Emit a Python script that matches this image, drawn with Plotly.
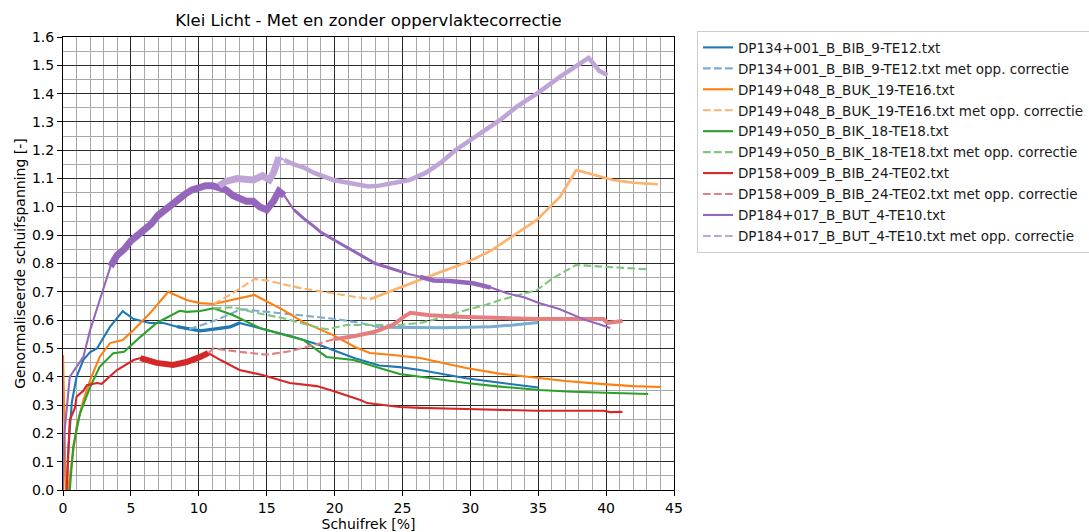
import plotly.graph_objects as go

# ---------------- data ----------------
names = [
    "DP134+001_B_BIB_9-TE12.txt",
    "DP149+048_B_BUK_19-TE16.txt",
    "DP149+050_B_BIK_18-TE18.txt",
    "DP158+009_B_BIB_24-TE02.txt",
    "DP184+017_B_BUT_4-TE10.txt",
]
suffix = " met opp. correctie"

# DP134 (blue)
x134 = [0.27, 0.4, 0.65, 1.0, 1.5, 2.0, 2.5, 2.95, 3.46, 4.4, 5.2, 6.4, 7.4, 8.4, 9.6, 10.1,
        11.1, 12.3, 13.0, 14.0, 15.0, 17.0, 18.9, 19.9, 21.5, 23.3, 24.8, 26.3, 28.0, 29.7,
        31.5, 33.5, 35.0]
y134 = [0.0, 0.15, 0.31, 0.40, 0.46, 0.487, 0.50, 0.537, 0.576, 0.632, 0.604, 0.59, 0.59, 0.577,
        0.567, 0.562, 0.568, 0.576, 0.59, 0.578, 0.565, 0.54, 0.512, 0.494, 0.465, 0.44, 0.434,
        0.424, 0.41, 0.395, 0.383, 0.37, 0.362]
x134c = [9.3, 10.0, 11.0, 12.0, 12.8, 13.3, 15.0, 17.5, 19.9, 21.9, 23.3, 24.8, 26.3, 28.0,
         29.7, 31.5, 33.0, 34.0, 35.0]
y134c = [0.568, 0.578, 0.595, 0.615, 0.632, 0.638, 0.629, 0.618, 0.605, 0.59, 0.575, 0.574,
         0.572, 0.573, 0.575, 0.577, 0.582, 0.588, 0.592]

# DP149+048 (orange)
x048 = [0.0, 0.2, 0.37, 0.65, 1.0, 1.5, 2.0, 2.7, 3.46, 4.4, 5.2, 6.4, 7.75, 9.1, 10.1, 11.1,
        12.5, 14.1, 16.2, 17.7, 19.9, 21.5, 22.6, 24.3, 26.3, 28.0, 29.7, 32.0, 34.9, 37.0,
        39.8, 42.0, 44.0]
y048 = [0.477, 0.0, 0.0, 0.106, 0.224, 0.317, 0.388, 0.47, 0.519, 0.53, 0.565, 0.624, 0.70,
        0.671, 0.66, 0.657, 0.671, 0.689, 0.636, 0.593, 0.547, 0.505, 0.484, 0.477, 0.466,
        0.448, 0.431, 0.412, 0.396, 0.385, 0.374, 0.367, 0.364]
x048c = [11.1, 12.5, 14.1, 15.0, 17.5, 19.9, 21.9, 22.6, 24.3, 26.3, 27.8, 29.8, 31.5, 32.9,
         34.9, 36.6, 37.8, 40.5, 42.0, 43.8]
y048c = [0.657, 0.695, 0.745, 0.74, 0.713, 0.695, 0.678, 0.674, 0.706, 0.742, 0.77, 0.805,
         0.845, 0.89, 0.954, 1.035, 1.13, 1.095, 1.085, 1.08]

# DP149+050 (green)
x050 = [0.5, 0.75, 1.25, 2.0, 2.7, 3.7, 4.5, 5.7, 6.9, 8.6, 9.1, 10.1, 11.1, 12.5, 14.5,
        17.7, 19.4, 21.4, 23.3, 24.8, 26.3, 28.0, 29.7, 32.0, 35.1, 37.5, 39.8, 43.1]
y050 = [0.0, 0.152, 0.27, 0.364, 0.435, 0.483, 0.488, 0.541, 0.59, 0.633, 0.629, 0.632, 0.642,
        0.618, 0.572, 0.53, 0.47, 0.459, 0.431, 0.41, 0.40, 0.388, 0.378, 0.366, 0.353,
        0.347, 0.343, 0.339]
x050c = [11.1, 12.5, 14.0, 16.2, 18.9, 19.5, 20.9, 21.9, 24.8, 26.3, 28.0, 29.7, 31.0, 32.2,
         34.9, 36.1, 37.0, 37.8, 40.0, 43.0]
y050c = [0.642, 0.645, 0.628, 0.607, 0.572, 0.568, 0.583, 0.583, 0.583, 0.59, 0.61, 0.636,
         0.652, 0.671, 0.706, 0.749, 0.772, 0.795, 0.788, 0.78]

# DP158 (red)
x158 = [0.27, 0.39, 0.5, 0.88, 1.0, 1.5, 1.75, 2.5, 2.85, 3.95, 5.2, 5.7, 6.9, 8.1, 9.1,
        10.1, 10.7, 11.6, 13.0, 14.7, 16.7, 18.7, 19.9, 21.9, 22.4, 24.8, 26.3, 29.7, 34.9,
        39.8, 40.3, 41.2]
y158 = [0.0, 0.153, 0.247, 0.29, 0.33, 0.35, 0.37, 0.378, 0.375, 0.423, 0.459, 0.466, 0.449,
        0.442, 0.452, 0.47, 0.484, 0.459, 0.424, 0.406, 0.378, 0.367, 0.35, 0.318, 0.307,
        0.293, 0.29, 0.286, 0.28, 0.28, 0.275, 0.276]
x158c = [10.7, 11.1, 13.0, 15.0, 16.7, 18.0, 18.7, 19.9, 21.4, 22.9, 24.3, 25.2, 25.6, 27.0,
         29.7, 34.9, 39.8, 40.1, 41.2]
y158c = [0.484, 0.50, 0.488, 0.478, 0.49, 0.505, 0.515, 0.532, 0.543, 0.558, 0.583, 0.615,
         0.626, 0.617, 0.611, 0.604, 0.604, 0.59, 0.597]

# DP184 (purple)
x184 = [0.0, 0.1, 0.5, 1.0, 1.5, 2.0, 2.7, 3.5, 4.0, 4.5, 5.0, 5.5, 6.0, 6.5, 7.0, 7.5, 8.0,
        8.5, 9.0, 9.5, 10.0, 10.5, 11.0, 11.5, 12.0, 12.5, 13.0, 13.5, 14.0, 14.5, 15.0, 15.5,
        15.9, 16.3, 17.0, 17.7, 18.5, 19.0, 19.9, 21.0, 22.0, 23.0, 24.0, 25.3, 26.3, 27.3,
        28.5, 30.2, 31.5, 32.7, 34.0, 35.1, 36.5, 37.6, 38.5, 39.5, 40.3]
y184 = [0.0, 0.2, 0.40, 0.435, 0.47, 0.565, 0.67, 0.79, 0.83, 0.85, 0.88, 0.90, 0.92, 0.94,
        0.97, 0.99, 1.01, 1.03, 1.045, 1.06, 1.07, 1.075, 1.075, 1.07, 1.06, 1.04, 1.03, 1.02,
        1.02, 1.00, 0.99, 1.02, 1.055, 1.04, 0.99, 0.96, 0.93, 0.91, 0.885, 0.855, 0.825,
        0.80, 0.785, 0.765, 0.753, 0.74, 0.738, 0.73, 0.715, 0.695, 0.68, 0.66, 0.64, 0.618,
        0.60, 0.585, 0.572]
x184c = [11.5, 12.0, 12.8, 13.5, 14.0, 14.7, 15.2, 15.5, 15.9, 16.3, 17.0, 17.7, 18.5, 19.9,
         21.0, 21.9, 22.5, 23.3, 24.3, 25.5, 26.7, 27.8, 28.9, 30.0, 31.1, 32.2, 33.4, 34.9,
         36.6, 37.8, 38.7, 39.0, 39.5, 40.1]
y184c = [1.075, 1.09, 1.10, 1.10, 1.095, 1.11, 1.095, 1.12, 1.175, 1.165, 1.15, 1.14, 1.12,
         1.095, 1.085, 1.077, 1.072, 1.075, 1.084, 1.095, 1.12, 1.155, 1.20, 1.236, 1.27,
         1.307, 1.353, 1.40, 1.459, 1.50, 1.526, 1.51, 1.48, 1.466]

x_ticks = [0, 5, 10, 15, 20, 25, 30, 35, 40, 45]
y_ticks = [0.0, 0.1, 0.2, 0.3, 0.4, 0.5, 0.6, 0.7, 0.8, 0.9, 1.0, 1.1, 1.2, 1.3, 1.4, 1.5, 1.6]

# ---------------- styling ----------------
colors = ["#1f77b4", "#ff7f0e", "#2ca02c", "#d62728", "#9467bd"]
light = ["#79add2", "#ffb26e", "#80c680", "#e67d7e", "#bfa4d7"]  # alpha 0.6 on white
FONT = "DejaVu Sans"
DASH = "7.7px,3.3px"

series = [
    (x134, y134, x134c, y134c),
    (x048, y048, x048c, y048c),
    (x050, y050, x050c, y050c),
    (x158, y158, x158c, y158c),
    (x184, y184, x184c, y184c),
]
# thick "noisy" stretches: (x_from, x_to, width) for solid / corrected traces
bands_solid = [[(8.0, 13.5, 3.2)], [], [], [(5.3, 11.0, 6)], [(3.2, 16.4, 7), (16.4, 26, 3), (26, 31.5, 4.5)]]
bands_corr = [[(23, 35, 3)], [(22.6, 44, 2.6)], [], [(19, 41.5, 4)], [(11.5, 16.2, 7), (16.2, 40.5, 4.5)]]

fig = go.Figure()


def add_bands(xs, ys, col, bands):
    for (a, b, w) in bands:
        sx = [x for x in xs if a <= x <= b]
        sy = [y for x, y in zip(xs, ys) if a <= x <= b]
        fig.add_trace(go.Scatter(x=sx, y=sy, mode="lines", showlegend=False, hoverinfo="skip",
                                 line=dict(color=col, width=w)))


rank = 1
for i, (xs, ys, xc, yc) in enumerate(series):
    fig.add_trace(go.Scatter(x=xs, y=ys, mode="lines", name=names[i], legendrank=rank,
                             legendgroup=f"g{rank}",
                             line=dict(color=colors[i], width=2.1)))
    add_bands(xs, ys, colors[i], bands_solid[i])
    rank += 1
    fig.add_trace(go.Scatter(x=xc, y=yc, mode="lines", name=names[i] + suffix, legendrank=rank,
                             legendgroup=f"g{rank}",
                             line=dict(color=light[i], width=2.1, dash=DASH)))
    add_bands(xc, yc, light[i], bands_corr[i])
    rank += 1

axis_common = dict(
    showline=True, linecolor="black", linewidth=1, mirror=True,
    ticks="outside", ticklen=5, tickwidth=1, tickcolor="black",
    showgrid=True, gridcolor="#2b2b2b", gridwidth=1,
    zeroline=False,
    tickfont=dict(family=FONT, size=14, color="black"),
)

fig.update_xaxes(
    range=[0, 45], tickmode="array", tickvals=x_ticks, ticktext=[str(v) for v in x_ticks],
    minor=dict(dtick=1, showgrid=True, gridcolor="#a8a8a8", gridwidth=1, ticks=""),
    title=dict(text="Schuifrek [%]", font=dict(family=FONT, size=14, color="black"), standoff=4),
    **axis_common,
)
fig.update_yaxes(
    range=[0, 1.6], tickmode="array", tickvals=y_ticks, ticktext=[f"{v:.1f}" for v in y_ticks],
    minor=dict(dtick=0.05, showgrid=True, gridcolor="#a8a8a8", gridwidth=1, ticks=""),
    title=dict(text="Genormaliseerde schuifspanning [-]", font=dict(family=FONT, size=14, color="black"),
               standoff=3),
    **axis_common,
)

fig.update_layout(
    width=1089, height=532,
    margin=dict(l=63, r=415, t=37, b=42, autoexpand=False),
    paper_bgcolor="white", plot_bgcolor="white",
    font=dict(family=FONT, size=14, color="black"),
    title=dict(text="Klei Licht - Met en zonder oppervlaktecorrectie",
               font=dict(family=FONT, size=16.5, color="black"),
               x=0.5, xref="paper", xanchor="center",
               y=1 - 20 / 532, yref="container", yanchor="middle"),
    legend=dict(x=1.0376, y=1.013, xanchor="left", yanchor="top",
                bordercolor="#cccccc", borderwidth=1, bgcolor="white",
                font=dict(family=FONT, size=13.5, color="#1a1a1a"),
                traceorder="grouped", tracegroupgap=0.4, itemwidth=30),
    showlegend=True,
)

fig.write_html("out.html")
